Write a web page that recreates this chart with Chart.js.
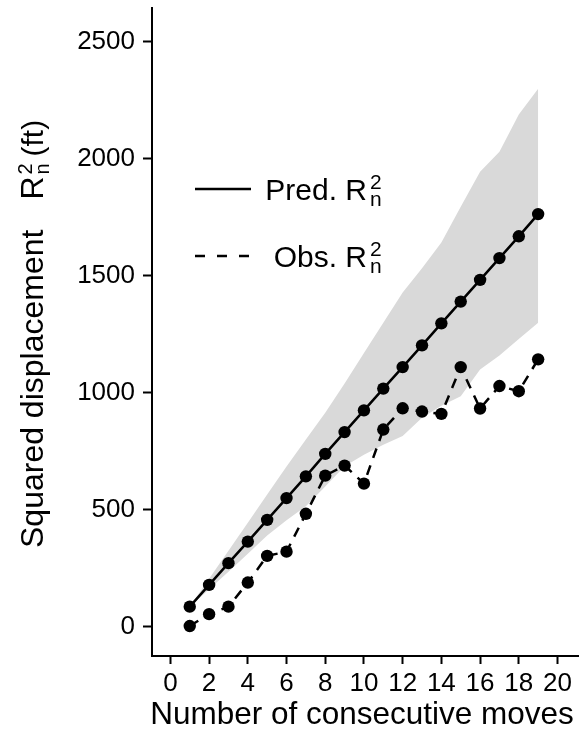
<!DOCTYPE html>
<html>
<head>
<meta charset="utf-8">
<script src="https://cdn.jsdelivr.net/npm/chart.js@4.4.1/dist/chart.umd.min.js"></script>
<style>
html,body{margin:0;padding:0;background:#ffffff;overflow:hidden;width:579px;height:740px;}
#wrap{width:585px;height:740px;position:relative;}
</style>
</head>
<body>
<div id="wrap"><canvas id="c"></canvas></div>
<script>
// ---- data ----
const moves = [1,2,3,4,5,6,7,8,9,10,11,12,13,14,15,16,17,18,19];
const predicted = [86,179,272,364,457,550,643,739,832,925,1018,1110,1203,1297,1390,1483,1576,1669,1764];
const observed = [3,54,86,189,303,321,483,646,689,612,843,934,920,910,1110,933,1029,1007,1143];
const bandUpper = [86,205,325,445,565,685,800,915,1040,1170,1300,1429,1533,1643,1795,1945,2030,2190,2300];
const bandLower = [86,160,235,312,390,455,515,600,686,735,778,815,893,945,985,1100,1160,1230,1300];
const xTickValues = [0,2,4,6,8,10,12,14,16,18,20];
const yTickValues = [0,500,1000,1500,2000,2500];
const xTitle = "Number of consecutive moves";
const yTitleMain = "Squared displacement";
const yTitleUnit = "(ft)";
const legendPred = "Pred. R";
const legendObs = "Obs. R";

const FONT = "'Liberation Sans', Arial, Helvetica, sans-serif";
const toXY = (ys) => moves.map((m, i) => ({x: m, y: ys[i]}));

function drawSupSub(ctx, x, y, sup, sub, size) {
  ctx.font = size + "px " + FONT;
  ctx.textAlign = "left";
  ctx.fillText(sup, x, y - 11);
  ctx.fillText(sub, x, y + 6);
}

const annotations = {
  id: "annotations",
  afterDraw(chart) {
    const ctx = chart.ctx;
    ctx.save();
    ctx.fillStyle = "#000";
    ctx.strokeStyle = "#000";

    // x axis title
    ctx.font = "31.5px " + FONT;
    ctx.textAlign = "center";
    ctx.textBaseline = "middle";
    ctx.fillText(xTitle, 362, 715);

    ctx.textBaseline = "alphabetic";
    // legend
    ctx.lineWidth = 2.5;
    ctx.setLineDash([]);
    ctx.beginPath(); ctx.moveTo(195, 189); ctx.lineTo(251, 189); ctx.stroke();
    ctx.setLineDash([10, 12]);
    ctx.beginPath(); ctx.moveTo(195, 256); ctx.lineTo(251, 256); ctx.stroke();
    ctx.setLineDash([]);
    ctx.font = "30px " + FONT;
    ctx.textAlign = "right";
    ctx.fillText(legendPred, 367, 200);
    ctx.fillText(legendObs, 367, 267);
    drawSupSub(ctx, 370, 200, "2", "n", 21);
    drawSupSub(ctx, 370, 267, "2", "n", 21);

    // y axis title
    ctx.translate(43, 548);
    ctx.rotate(-Math.PI / 2);
    ctx.font = "32px " + FONT;
    ctx.textAlign = "left";
    ctx.fillText(yTitleMain, 0, 0);
    const w1 = ctx.measureText(yTitleMain).width;
    const rx = w1 + 30;
    ctx.fillText("R", rx, 0);
    const rw = ctx.measureText("R").width;
    drawSupSub(ctx, rx + rw + 2, 0, "2", "n", 20);
    ctx.font = "30px " + FONT;
    ctx.fillText(yTitleUnit, rx + rw + 20, 0);
    ctx.restore();
  }
};

function noPadding(scale) {
  scale.paddingTop = 0; scale.paddingBottom = 0;
  scale.paddingLeft = 0; scale.paddingRight = 0;
}

new Chart(document.getElementById("c"), {
  type: "line",
  data: {
    datasets: [
      { label: "upper", data: toXY(bandUpper), fill: "+1", backgroundColor: "#d9d9d9",
        borderWidth: 0, pointRadius: 0, tension: 0 },
      { label: "lower", data: toXY(bandLower), fill: false, borderWidth: 0, pointRadius: 0, tension: 0 },
      { label: "Pred", data: toXY(predicted), borderColor: "#000", borderWidth: 2.5, fill: false,
        pointRadius: 6.2, pointBackgroundColor: "#000", pointBorderWidth: 0, tension: 0 },
      { label: "Obs", data: toXY(observed), borderColor: "#000", borderWidth: 2.5, borderDash: [10, 8],
        fill: false, pointRadius: 6.2, pointBackgroundColor: "#000", pointBorderWidth: 0, tension: 0 }
    ]
  },
  options: {
    responsive: true,
    maintainAspectRatio: false,
    devicePixelRatio: 1,
    animation: false,
    layout: { padding: { top: 8, right: 0, left: 0, bottom: 0 } },
    plugins: {
      legend: { display: false },
      tooltip: { enabled: false },
      filler: { drawTime: "beforeDatasetsDraw" }
    },
    scales: {
      x: {
        type: "linear",
        min: -0.95,
        max: 21.1,
        afterBuildTicks: (axis) => { axis.ticks = xTickValues.map(v => ({value: v})); },
        afterFit: (scale) => { scale.height = 84; noPadding(scale); },
        grid: { display: true, drawOnChartArea: false, drawTicks: true, tickLength: 8,
                tickColor: "#000", tickWidth: 2 },
        border: { display: true, color: "#000", width: 2 },
        ticks: { color: "#000", font: { family: FONT, size: 26 }, padding: 4, maxRotation: 0,
                 autoSkip: false, callback: (v) => String(v) },
        title: { display: false }
      },
      y: {
        type: "linear",
        min: -125,
        max: 2645,
        afterBuildTicks: (axis) => { axis.ticks = yTickValues.map(v => ({value: v})); },
        afterFit: (scale) => { scale.width = 152; noPadding(scale); },
        grid: { display: true, drawOnChartArea: false, drawTicks: true, tickLength: 9,
                tickColor: "#000", tickWidth: 2 },
        border: { display: true, color: "#000", width: 2 },
        ticks: { color: "#000", font: { family: FONT, size: 26 }, padding: 8, autoSkip: false,
                 callback: (v) => String(v) }
      }
    }
  },
  plugins: [annotations]
});
</script>
</body>
</html>
